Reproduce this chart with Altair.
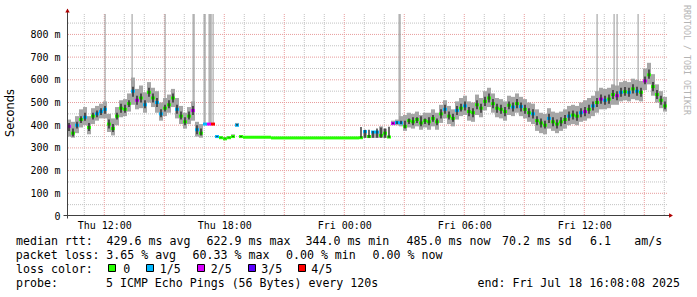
import altair as alt
import pandas as pd

# ---------------- time frame (hours since Thu 00:00) ----------------
START_H = 10 + 8 / 60 + 8 / 3600      # Thu 10:08:08
SPAN_H = 30.0                          # ends Fri 16:08:08
STEP_H = 0.2                           # one value every 12 minutes
Y_MAX = 890

# ---------------- data (ms) ----------------
MEDIAN = [
    395, 365, 400, 425, 435, 390, 440, 450, 460, 470,
    405, 385, 440, 475, 470, 495, 550, 510, 520, 490,
    545, 520, 500, 450, 475, 490, 520, 470, 440, 415,
    440, 465, 380, 365, 405, 405, 405, 350, 345, 340,
    345, 350, 400, 350, 347, 347, 347, 347, 347, 347,
    347, 344, 344, 344, 344, 344, 344, 344, 344, 344,
    344, 344, 344, 344, 344, 344, 344, 344, 344, 344,
    344, 344, 344, 345, 372, 350, 370, 370, 355, 365,
    348, 408, 412, 410, 395, 420, 415, 425, 410, 420,
    415, 430, 415, 450, 470, 440, 430, 465, 475, 485,
    460, 455, 490, 475, 505, 520, 495, 475, 470, 460,
    488, 480, 495, 482, 470, 455, 450, 420, 410, 400,
    430, 415, 405, 415, 425, 440, 445, 440, 455, 460,
    470, 485, 500, 515, 510, 515, 535, 530, 545, 548,
    545, 560, 550, 545, 595, 622, 570, 535, 510, 485,
]
LOSS = [
    2, 0, 1, 0, 1, 0, 0, 1, 1, 1,
    0, 0, 0, 0, 0, 0, 1, 2, 0, 1,
    0, 0, 1, 1, 0, 0, 0, 1, 0, 0,
    0, 2, 1, 0, 1, 2, 4, 1, 0, 0,
    0, 0, 1, 0, 0, 0, 0, 0, 0, 0,
    0, 0, 0, 0, 0, 0, 0, 0, 0, 0,
    0, 0, 0, 0, 0, 0, 0, 0, 0, 0,
    0, 0, 0, 0, 1, 0, 1, 1, 0, 0,
    0, 2, 1, 1, 0, 0, 0, 0, 0, 0,
    0, 0, 0, 0, 1, 0, 0, 1, 0, 1,
    0, 0, 0, 0, 0, 0, 0, 0, 0, 0,
    0, 1, 0, 1, 0, 0, 1, 0, 0, 0,
    1, 0, 0, 0, 0, 1, 0, 0, 1, 2,
    0, 1, 0, 2, 1, 0, 0, 2, 1, 0,
    1, 0, 1, 0, 2, 0, 0, 0, 0, 0,
]
SMOKE_LO = [
    350, 345, 365, 390, 400, 360, 405, 420, 430, 430,
    370, 355, 400, 435, 440, 460, 490, 470, 475, 455,
    500, 480, 455, 420, 440, 455, 480, 430, 405, 385,
    405, 420, 350, 345, 405, 405, 405, 345, 343, 338,
    343, 345, 395, 345, 347, 347, 347, 347, 347, 347,
    347, 344, 344, 344, 344, 344, 344, 344, 344, 344,
    344, 344, 344, 344, 344, 344, 344, 344, 344, 344,
    344, 344, 344, 344, 344, 344, 344, 344, 344, 344,
    344, 400, 400, 395, 375, 390, 385, 395, 380, 390,
    380, 395, 380, 410, 430, 405, 395, 425, 440, 445,
    420, 415, 445, 435, 465, 480, 455, 435, 430, 420,
    445, 440, 455, 440, 430, 415, 405, 375, 365, 360,
    385, 375, 365, 375, 385, 400, 405, 400, 415, 420,
    430, 440, 455, 470, 470, 475, 490, 490, 505, 510,
    505, 515, 510, 505, 555, 580, 530, 500, 475, 460,
]
SMOKE_HI = [
    425, 415, 440, 470, 480, 440, 475, 485, 495, 505,
    450, 430, 480, 510, 515, 540, 610, 560, 575, 545,
    590, 565, 550, 500, 520, 535, 560, 520, 485, 455,
    480, 505, 415, 405, 405, 405, 405, 355, 350, 348,
    350, 360, 410, 355, 347, 347, 347, 347, 347, 347,
    347, 344, 344, 344, 344, 344, 344, 344, 344, 344,
    344, 344, 344, 344, 344, 344, 344, 344, 344, 344,
    344, 344, 344, 345, 375, 350, 372, 372, 395, 385,
    348, 420, 425, 440, 445, 455, 450, 460, 445, 455,
    455, 470, 455, 490, 510, 485, 470, 505, 520, 530,
    505, 500, 535, 520, 550, 565, 540, 520, 515, 505,
    530, 525, 540, 525, 515, 500, 495, 470, 455, 450,
    475, 460, 455, 460, 470, 485, 490, 485, 500, 510,
    520, 530, 550, 565, 560, 565, 580, 575, 590, 595,
    590, 605, 600, 595, 650, 675, 625, 580, 550, 525,
]
INNER_LO = [
    375, 350, 385, 410, 420, 375, 425, 435, 445, 450,
    385, 370, 425, 455, 455, 480, 525, 490, 500, 475,
    525, 500, 480, 435, 460, 475, 500, 450, 425, 400,
    425, 445, 360, 355, 405, 405, 405, 348, 344, 339,
    344, 348, 398, 348, 347, 347, 347, 347, 347, 347,
    347, 344, 344, 344, 344, 344, 344, 344, 344, 344,
    344, 344, 344, 344, 344, 344, 344, 344, 344, 344,
    344, 344, 344, 345, 345, 345, 345, 345, 345, 345,
    345, 405, 405, 405, 385, 405, 400, 410, 395, 405,
    400, 415, 400, 430, 450, 425, 415, 445, 460, 465,
    440, 435, 470, 455, 485, 500, 475, 455, 450, 440,
    470, 460, 475, 460, 450, 435, 430, 400, 390, 385,
    410, 395, 385, 395, 405, 420, 425, 420, 435, 440,
    450, 465, 480, 495, 490, 495, 515, 510, 525, 530,
    525, 540, 530, 525, 580, 605, 550, 515, 490, 470,
]
INNER_HI = [
    410, 385, 415, 440, 455, 410, 455, 465, 475, 485,
    425, 405, 455, 495, 490, 510, 570, 530, 540, 510,
    565, 540, 520, 470, 490, 510, 540, 490, 460, 435,
    460, 485, 400, 385, 405, 405, 405, 352, 346, 342,
    346, 352, 405, 352, 347, 347, 347, 347, 347, 347,
    347, 344, 344, 344, 344, 344, 344, 344, 344, 344,
    344, 344, 344, 344, 344, 344, 344, 344, 344, 344,
    344, 344, 344, 392, 380, 380, 375, 385, 390, 385,
    393, 412, 418, 420, 420, 430, 435, 435, 440, 430,
    435, 445, 430, 470, 490, 460, 450, 485, 495, 505,
    480, 475, 510, 495, 525, 540, 515, 495, 490, 480,
    505, 500, 515, 500, 490, 475, 470, 440, 430, 420,
    450, 435, 425, 435, 445, 460, 465, 460, 475, 480,
    490, 505, 520, 535, 530, 535, 555, 550, 565, 568,
    565, 580, 570, 565, 615, 645, 590, 555, 530, 505,
]
# isolated very high pings (hours since Thu 00:00), from where they rise, to beyond the top
SPIKE_H = [12.04, 13.39, 15.04, 16.44, 16.49, 16.99, 17.04, 17.24, 17.29, 17.34,
           17.44, 26.74, 26.79, 36.64, 37.49, 37.64, 38.69]
SPIKE_BASE = [480, 580, 490, 470, 470, 405, 405, 405, 405, 405,
              405, 415, 415, 520, 550, 545, 570]
SPIKE_TOP = [900, 900, 900, 900, 900, 900, 900, 900, 900, 900,
             900, 900, 900, 900, 900, 900, 900]

X_TICKS = [12, 18, 24, 30, 36]
X_LABELS = ["Thu 12:00", "Thu 18:00", "Fri 00:00", "Fri 06:00", "Fri 12:00"]
Y_TICKS = [0, 100, 200, 300, 400, 500, 600, 700, 800]
Y_LABELS = ["0", "100 m", "200 m", "300 m", "400 m", "500 m", "600 m", "700 m", "800 m"]
MINOR_X = [11, 13, 14, 16, 17, 19, 20, 22, 23, 25, 26, 28, 29, 31, 32, 34, 35, 37, 38, 40]
MAJOR_X = [12, 15, 18, 21, 24, 27, 30, 33, 36, 39]
MINOR_Y = [50, 150, 250, 350, 450, 550, 650, 750, 850]
MAJOR_Y = [100, 200, 300, 400, 500, 600, 700, 800]

LOSS_CODES = [0, 1, 2, 3, 4]
LOSS_NAMES = ["0", "1/5", "2/5", "3/5", "4/5"]
LOSS_COLORS = ["#26ff00", "#00b8ff", "#d800ff", "#5a00ff", "#ff0000"]

# ---------------- build tables ----------------
n = len(MEDIAN)
df = pd.DataFrame({
    "t0": [START_H + STEP_H * i for i in range(n)],
    "med": MEDIAN, "loss": LOSS,
    "lo": SMOKE_LO, "hi": SMOKE_HI, "ilo": INNER_LO, "ihi": INNER_HI,
})
df["t1"] = df["t0"] + STEP_H
df["tc"] = df["t0"] + STEP_H / 2
spikes = pd.DataFrame({"h": SPIKE_H, "base": SPIKE_BASE, "top": SPIKE_TOP})

W, H = 600, 202
LEFT, TOP = 67, 14
MONO = "DejaVu Sans Mono"

xs = alt.Scale(domain=[START_H, START_H + SPAN_H], nice=False, zero=False)
ys = alt.Scale(domain=[0, Y_MAX], nice=False, zero=False)


def make_expr(vals, labels):
    e = "''"
    for v, l in reversed(list(zip(vals, labels))):
        e = f"datum.value == {v} ? '{l}' : {e}"
    return e


y_lab = [l if " " in l else l + "\u00a0\u00a0" for l in Y_LABELS]

x_axis = alt.Axis(values=X_TICKS, labelExpr=make_expr(X_TICKS, X_LABELS), title=None,
                  grid=False, ticks=False, tickSize=0, domain=False, labelFont=MONO,
                  labelFontSize=10, labelColor="#000000", labelPadding=12,
                  labelBaseline="alphabetic", labelFlush=False, labelOverlap=False, labelAngle=0)
y_axis = alt.Axis(values=Y_TICKS, labelExpr=make_expr(Y_TICKS, y_lab), title=None,
                  grid=False, ticks=False, tickSize=0, domain=False, labelFont=MONO,
                  labelFontSize=10, labelColor="#000000", labelPadding=7,
                  labelBaseline="middle", labelAlign="right", labelFlush=False, labelOverlap=False)


def X(f):
    return alt.X(f, type="quantitative", scale=xs, axis=x_axis)


def Y(f):
    return alt.Y(f, type="quantitative", scale=ys, axis=y_axis)


# grid
def vgrid(vals, color):
    return alt.Chart(pd.DataFrame({"h": vals})).mark_rule(
        color=color, strokeDash=[1, 1], strokeWidth=1
    ).encode(x=X("h"))


def hgrid(vals, color):
    return alt.Chart(pd.DataFrame({"v": vals})).mark_rule(
        color=color, strokeDash=[1, 1], strokeWidth=1
    ).encode(y=Y("v"))


MINOR_C = "#c2c2c2"
MAJOR_C = "#e89c9c"
grid = [vgrid(MINOR_X, MINOR_C), hgrid(MINOR_Y, MINOR_C), vgrid(MAJOR_X, MAJOR_C), hgrid(MAJOR_Y, MAJOR_C)]

base = alt.Chart(df)
smoke = base.mark_rect(color="#a6a6a6").encode(x=X("t0"), x2="t1", y=Y("lo"), y2="hi")
spike = alt.Chart(spikes).mark_rule(color="#a0a0a0", strokeWidth=1.1, clip=True).encode(
    x=X("h"), y=Y("base"), y2="top")
median = base.mark_rule(strokeWidth=3).encode(
    x=X("t0"), x2="t1", y=Y("med"),
    color=alt.Color("loss:N", scale=alt.Scale(domain=LOSS_CODES, range=LOSS_COLORS), legend=None))
inner = base.mark_rule(color="#1c1c1c", strokeWidth=1.3).encode(x=X("tc"), y=Y("ilo"), y2="ihi")

dummy = pd.DataFrame({"d": [0]})


def txt(s, px, py, size=11.6, font=MONO, color="#000000", angle=0, align="left", baseline="alphabetic"):
    return alt.Chart(dummy).mark_text(
        text=s, font=font, fontSize=size, color=color, angle=angle, align=align, baseline=baseline
    ).encode(x=alt.value(px - LEFT), y=alt.value(py - TOP))


def rule(x1, y1, x2, y2, color="#404040"):
    return alt.Chart(dummy).mark_rule(color=color, strokeWidth=1).encode(
        x=alt.value(x1 - LEFT), x2=alt.value(x2 - LEFT), y=alt.value(y1 - TOP), y2=alt.value(y2 - TOP))


def arrow(shape, px, py):
    return alt.Chart(dummy).mark_point(shape=shape, filled=True, color="#b00000", size=20, opacity=1).encode(
        x=alt.value(px - LEFT), y=alt.value(py - TOP))


def box(color, px, py):
    return alt.Chart(dummy).mark_rect(fill=color, stroke="#000000", strokeWidth=1).encode(
        x=alt.value(px + 0.5 - LEFT), x2=alt.value(px + 7.5 - LEFT),
        y=alt.value(py + 0.5 - TOP), y2=alt.value(py + 7.5 - TOP))


decor = [
    rule(67.5, 9, 67.5, 218.5),
    rule(63.5, 215.5, 671, 215.5),
    arrow("triangle-up", 67.5, 10.5),
    arrow("triangle-right", 671, 215.5),
    txt("Seconds", 11, 113, size=11.4, font="DejaVu Sans", angle=270, align="center", baseline="middle"),
    txt("RRDTOOL / TOBI OETIKER", 686, 60, size=8.3, color="#b4b4b4", angle=90, align="center", baseline="middle"),
]

L1, L2, L3, L4 = 244.5, 258.5, 272.5, 286.5
legend = [
    txt("median rtt:", 16, L1),
    txt("429.6 ms avg", 106.6, L1),
    txt("622.9 ms max", 206.6, L1),
    txt("344.0 ms min", 305.5, L1),
    txt("485.0 ms now", 406.6, L1),
    txt("70.2 ms sd", 502, L1),
    txt("6.1", 590, L1),
    txt("am/s", 634.3, L1),
    txt("packet loss:", 15.8, L2),
    txt("3.65 % avg", 106.3, L2),
    txt("60.33 % max", 192.6, L2),
    txt("0.00 % min", 286, L2),
    txt("0.00 % now", 372.6, L2),
    txt("loss color:", 16, L3),
    txt("probe:", 16, L4),
    txt("5 ICMP Echo Pings (56 Bytes) every 120s", 106, L4),
    txt("end: Fri Jul 18 16:08:08 2025", 477.5, L4),
]
BOX_X = [108, 146, 197, 248, 298]
LAB_X = [123.3, 159.7, 210.7, 261.3, 311.3]
for c, name, bx, lx in zip(LOSS_COLORS, LOSS_NAMES, BOX_X, LAB_X):
    legend.append(box(c, bx, 264))
    legend.append(txt(name, lx, L3))

chart = alt.layer(*grid, smoke, spike, median, inner, *decor, *legend).properties(
    width=W, height=H,
    autosize=alt.AutoSizeParams(type="none"),
    padding={"left": LEFT, "top": TOP, "right": 697 - LEFT - W, "bottom": 297 - TOP - H},
    background="#ffffff",
).configure_view(stroke=None)

chart.save("out.html", embed_options={"renderer": "svg", "actions": False})
